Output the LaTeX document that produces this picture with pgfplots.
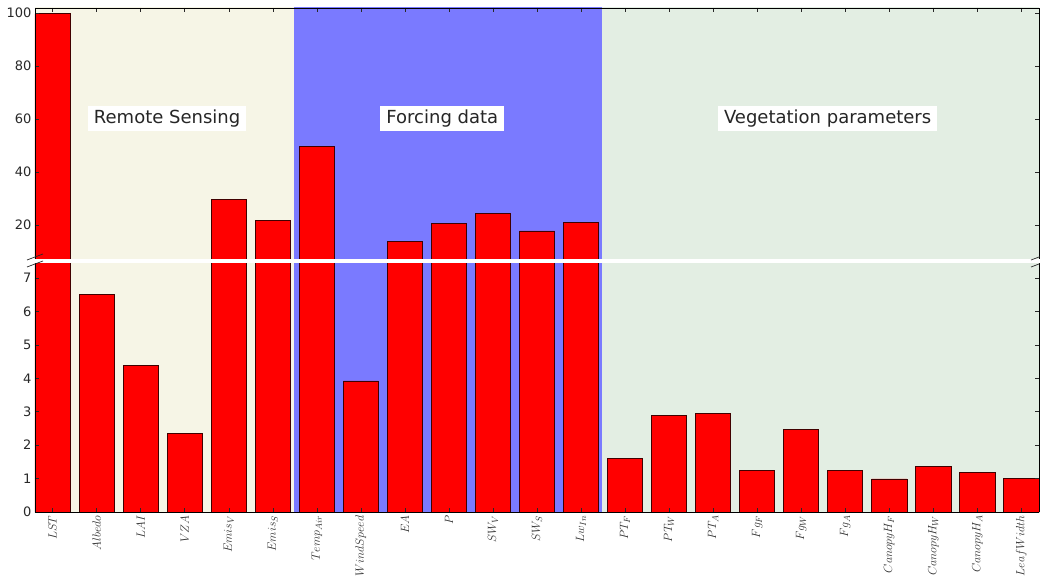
\documentclass[border=0pt]{standalone}
\usepackage{pgfplots}
\pgfplotsset{compat=1.18}
\usepackage{fontspec}
\setmainfont{DejaVu Sans}
\definecolor{rsbg}{RGB}{246,245,230}
\definecolor{fdbg}{RGB}{122,122,255}
\definecolor{vgbg}{RGB}{227,238,227}
\definecolor{tickc}{RGB}{40,40,40}
\pgfplotstableread{
x y
0 99.6
1 6.50
2 4.39
3 2.34
4 29.4
5 21.5
6 49.5
7 3.92
8 13.7
9 20.5
10 24.4
11 17.7
12 20.9
13 1.60
14 2.89
15 2.94
16 1.24
17 2.46
18 1.23
19 0.99
20 1.35
21 1.17
22 1.00
}\data
\pgfplotsset{
  brk/.style={
    width=1004pt, scale only axis,
    xmin=-0.4, xmax=22.4,
    xtick={0,...,22},
    tick align=inside,
    major tick length=4pt,
    tick style={tickc, line width=0.5pt},
    axis line style={black, line width=0.8pt},
    axis on top,
    /pgf/number format/assume math mode=true,
    yticklabel style={font=\fontsize{13}{13}\selectfont, text=tickc},
    axis y line*=box,
    clip=true,
  },
  bgs/.style={draw=none, forget plot},
}
\begin{document}
\begin{tikzpicture}
\useasboundingbox (-35pt,-66pt) rectangle (1005pt,512pt);
% bottom axis
\begin{axis}[brk, at={(0pt,0pt)}, anchor=south west, height=249pt,
  ymin=0, ymax=7.45, ytick={0,1,2,3,4,5,6,7},
  axis x line*=bottom,
  xticklabels={$LST$,$Albedo$,$LAI$,$VZA$,$Emis_V$,$Emis_S$,$Temp_{Air}$,$WindSpeed$,$EA$,$P$,$SW_V$,$SW_S$,$Lw_{In}$,$PT_F$,$PT_W$,$PT_A$,$Fg_F$,$Fg_W$,$Fg_A$,$CanopyH_F$,$CanopyH_W$,$CanopyH_A$,$LeafWidth$},
  xticklabel style={rotate=90, anchor=east, font=\fontsize{13}{13}\selectfont, text=black!80},
  ]
  \addplot[bgs, fill=rsbg] coordinates {(-0.4,-1) (5.48,-1) (5.48,200) (-0.4,200)} -- cycle;
  \addplot[bgs, fill=fdbg] coordinates {(5.48,-1) (12.47,-1) (12.47,200) (5.48,200)} -- cycle;
  \addplot[bgs, fill=vgbg] coordinates {(12.47,-1) (22.4,-1) (22.4,200) (12.47,200)} -- cycle;
  \addplot[ybar, bar width=0.8, fill=red, draw=black!75!red, line width=0.8pt] table[x=x,y=y] {\data};
\end{axis}
% top axis
\begin{axis}[brk, at={(0pt,253pt)}, anchor=south west, height=251pt,
  ymin=7.1, ymax=101.8, ytick={20,40,60,80,100},
  axis x line*=top, xticklabels={},
  ]
  \addplot[bgs, fill=rsbg] coordinates {(-0.4,-1) (5.48,-1) (5.48,200) (-0.4,200)} -- cycle;
  \addplot[bgs, fill=fdbg] coordinates {(5.48,-1) (12.47,-1) (12.47,200) (5.48,200)} -- cycle;
  \addplot[bgs, fill=vgbg] coordinates {(12.47,-1) (22.4,-1) (22.4,200) (12.47,200)} -- cycle;
  \addplot[ybar, bar width=0.8, fill=red, draw=black!75!red, line width=0.8pt, restrict y to domain=7.2:200] table[x=x,y=y] {\data};
  \node[fill=white, inner xsep=6pt, inner ysep=4pt, font=\fontsize{18}{18}\selectfont, text=black!85] at (axis cs:2.6,60) {Remote Sensing};
  \node[fill=white, inner xsep=6pt, inner ysep=4pt, font=\fontsize{18}{18}\selectfont, text=black!85] at (axis cs:8.85,60) {Forcing data};
  \node[fill=white, inner xsep=6pt, inner ysep=4pt, font=\fontsize{18}{18}\selectfont, text=black!85] at (axis cs:17.6,60) {Vegetation parameters};
\end{axis}
\fill[white] (-0.5pt,249pt) rectangle (1004.5pt,253pt);
\draw[tickc, line width=0.7pt] (-8pt,245pt) -- (8pt,251pt);
\draw[tickc, line width=0.7pt] (996pt,245pt) -- (1012pt,251pt);
\draw[tickc, line width=0.7pt] (-8pt,252pt) -- (8pt,258pt);
\draw[tickc, line width=0.7pt] (996pt,252pt) -- (1012pt,258pt);
\end{tikzpicture}
\end{document}
